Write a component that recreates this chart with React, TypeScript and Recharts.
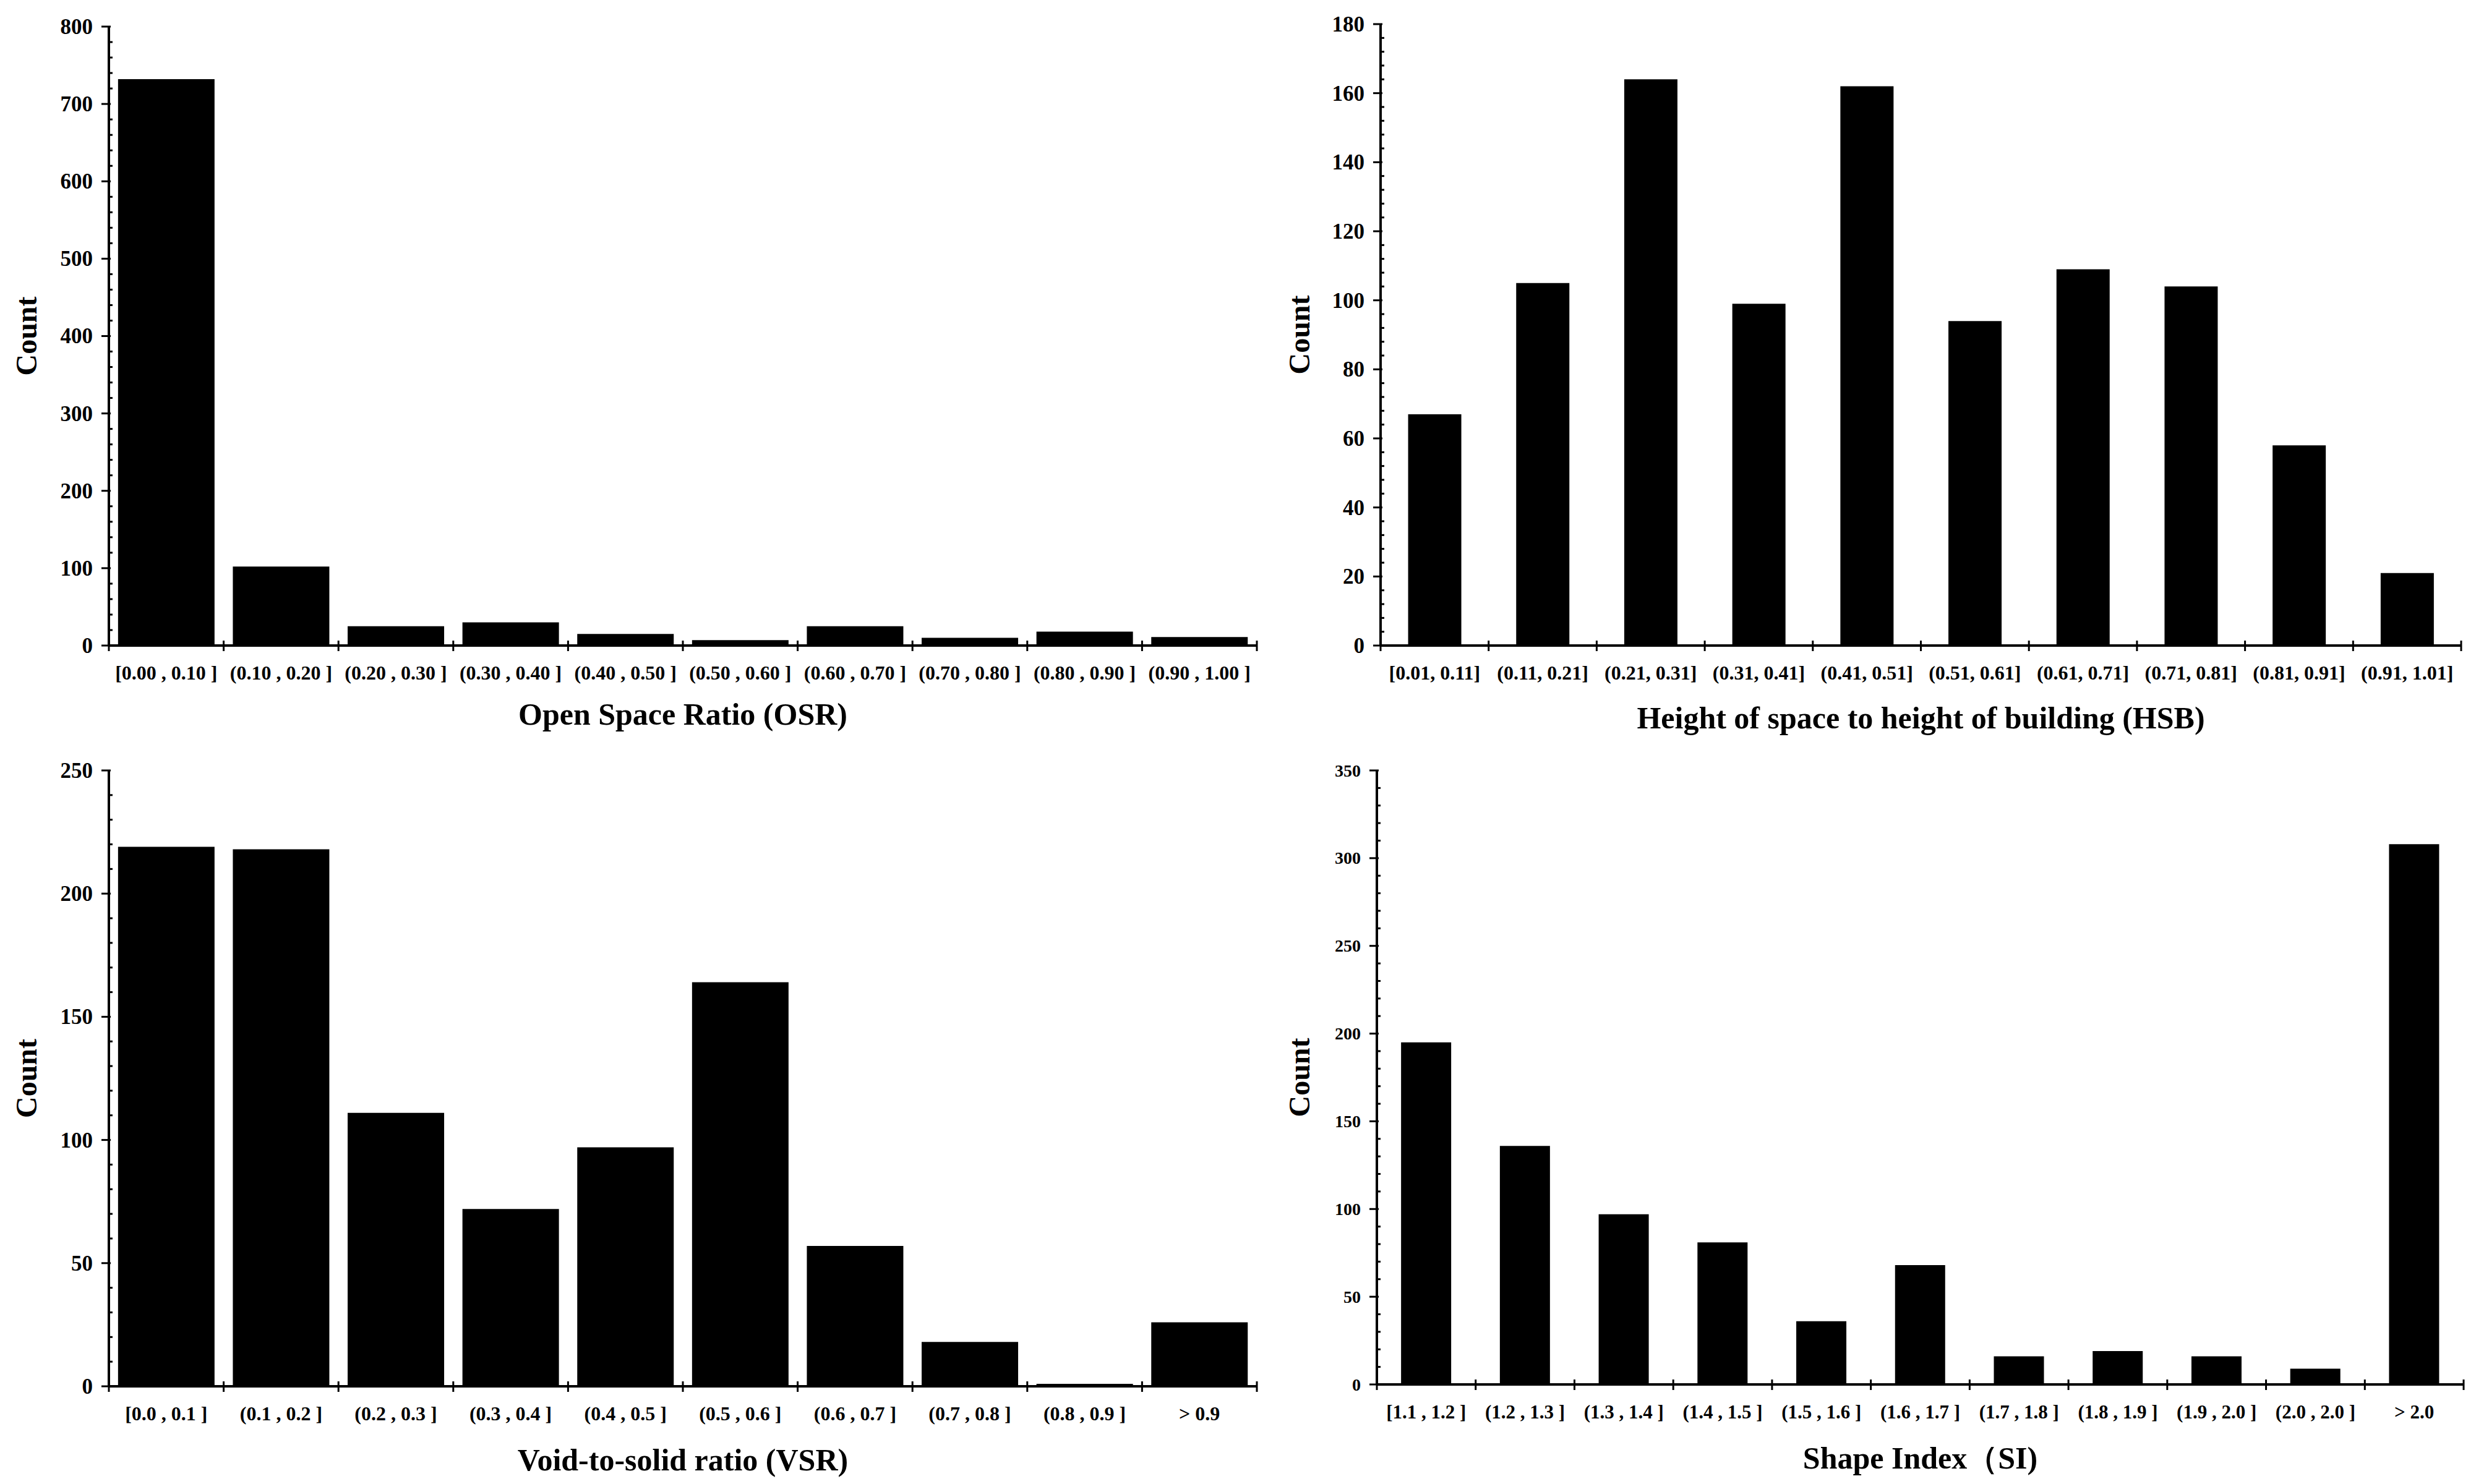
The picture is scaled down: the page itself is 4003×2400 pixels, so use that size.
import React from "react";
import { BarChart, Bar, XAxis, YAxis } from "recharts";

// ---- data ----
const osrCategories = [
  "[0.00 , 0.10 ]", "(0.10 , 0.20 ]", "(0.20 , 0.30 ]", "(0.30 , 0.40 ]", "(0.40 , 0.50 ]",
  "(0.50 , 0.60 ]", "(0.60 , 0.70 ]", "(0.70 , 0.80 ]", "(0.80 , 0.90 ]", "(0.90 , 1.00 ]",
];
const osrCounts = [732, 102, 25, 30, 15, 7, 25, 10, 18, 11];
const osrTicks = [0, 100, 200, 300, 400, 500, 600, 700, 800];

const hsbCategories = [
  "[0.01, 0.11]", "(0.11, 0.21]", "(0.21, 0.31]", "(0.31, 0.41]", "(0.41, 0.51]",
  "(0.51, 0.61]", "(0.61, 0.71]", "(0.71, 0.81]", "(0.81, 0.91]", "(0.91, 1.01]",
];
const hsbCounts = [67, 105, 164, 99, 162, 94, 109, 104, 58, 21];
const hsbTicks = [0, 20, 40, 60, 80, 100, 120, 140, 160, 180];

const vsrCategories = [
  "[0.0 , 0.1 ]", "(0.1 , 0.2 ]", "(0.2 , 0.3 ]", "(0.3 , 0.4 ]", "(0.4 , 0.5 ]",
  "(0.5 , 0.6 ]", "(0.6 , 0.7 ]", "(0.7 , 0.8 ]", "(0.8 , 0.9 ]", "> 0.9",
];
const vsrCounts = [219, 218, 111, 72, 97, 164, 57, 18, 1, 26];
const vsrTicks = [0, 50, 100, 150, 200, 250];

const siCategories = [
  "[1.1 , 1.2 ]", "(1.2 , 1.3 ]", "(1.3 , 1.4 ]", "(1.4 , 1.5 ]", "(1.5 , 1.6 ]", "(1.6 , 1.7 ]",
  "(1.7 , 1.8 ]", "(1.8 , 1.9 ]", "(1.9 , 2.0 ]", "(2.0 , 2.0 ]", "> 2.0",
];
const siCounts = [195, 136, 97, 81, 36, 68, 16, 19, 16, 9, 308];
const siTicks = [0, 50, 100, 150, 200, 250, 300, 350];

const FONT = '"Liberation Serif", "Times New Roman", serif';

function withMinor(major: number[], step: number) {
  const max = major[major.length - 1];
  const out: number[] = [];
  for (let i = 0; i * step <= max; i++) out.push(i * step);
  return out;
}

interface PanelProps {
  categories: string[];
  counts: number[];
  majorTicks: number[];
  minorStep: number;
  title: string;
  left: number;
  top: number;
  width: number;
  height: number;
  margin: { top: number; right: number; left: number; bottom: number };
  yAxisWidth: number;
  xAxisHeight: number;
  gap: string;
  xFont: number;
  yFont: number;
  countX: number;
  titleDy: number;
}

const Panel: React.FC<PanelProps> = (p) => {
  const data = p.categories.map((c, i) => ({ name: c, count: p.counts[i] }));
  const n = data.length;
  const plotW = p.width - p.margin.left - p.margin.right - p.yAxisWidth;
  const band = plotW / n;
  const majorStep = p.majorTicks[1] - p.majorTicks[0];
  const max = p.majorTicks[p.majorTicks.length - 1];

  const xTick = (props: any) => {
    const { x, y, payload } = props;
    const idx = props.index ?? payload.index;
    const half = band / 2;
    return (
      <g>
        <line x1={x - half} x2={x - half} y1={y - 8} y2={y + 9} stroke="#000" strokeWidth={3} />
        {idx === n - 1 && (
          <line x1={x + half} x2={x + half} y1={y - 8} y2={y + 9} stroke="#000" strokeWidth={3} />
        )}
        <text x={x} y={y + 55} textAnchor="middle" fontFamily={FONT} fontWeight="bold" fontSize={p.xFont} fill="#000">
          {payload.value}
        </text>
      </g>
    );
  };

  const yTick = (props: any) => {
    const { x, y, payload } = props;
    const v = payload.value;
    const isMajor = Math.abs(v / majorStep - Math.round(v / majorStep)) < 1e-6;
    if (!isMajor) {
      return <line x1={x} x2={x + 6} y1={y} y2={y} stroke="#000" strokeWidth={3} />;
    }
    return (
      <g>
        <line x1={x - 12} x2={x + 3} y1={y} y2={y} stroke="#000" strokeWidth={3} />
        <text x={x - 26} y={y + p.yFont * 0.34} textAnchor="end" fontFamily={FONT} fontWeight="bold" fontSize={p.yFont} fill="#000">
          {v}
        </text>
      </g>
    );
  };

  return (
    <div style={{ position: "absolute", left: p.left, top: p.top }}>
      <BarChart width={p.width} height={p.height} data={data} margin={p.margin} barCategoryGap={p.gap}>
        <XAxis
          dataKey="name"
          height={p.xAxisHeight}
          interval={0}
          tickSize={0}
          tickMargin={0}
          tickLine={false}
          axisLine={{ stroke: "#000", strokeWidth: 4 }}
          tick={xTick}
          label={{
            content: (lp: any) => {
              const vb = lp.viewBox;
              return (
                <text x={vb.x + vb.width / 2} y={vb.y + p.titleDy} textAnchor="middle" fontFamily={FONT} fontWeight="bold" fontSize={50} fill="#000">
                  {p.title}
                </text>
              );
            },
          }}
        />
        <YAxis
          width={p.yAxisWidth}
          domain={[0, max]}
          ticks={withMinor(p.majorTicks, p.minorStep)}
          interval={0}
          tickSize={0}
          tickMargin={0}
          tickLine={false}
          allowDecimals
          axisLine={{ stroke: "#000", strokeWidth: 4 }}
          tick={yTick}
          label={{
            content: (lp: any) => {
              const vb = lp.viewBox;
              const cx = vb.x + p.countX + 16;
              const cy = vb.y + vb.height / 2;
              return (
                <text x={cx} y={cy} transform={`rotate(-90 ${cx} ${cy})`} textAnchor="middle" fontFamily={FONT} fontWeight="bold" fontSize={48} fill="#000">
                  Count
                </text>
              );
            },
          }}
        />
        <Bar dataKey="count" fill="#000" isAnimationActive={false} />
      </BarChart>
    </div>
  );
};

export default function App() {
  return (
    <div style={{ position: "relative", width: 4003, height: 2400, background: "#fff", overflow: "hidden" }}>
      <style>{"body{margin:0}"}</style>
      <Panel
        categories={osrCategories}
        counts={osrCounts}
        majorTicks={osrTicks}
        minorStep={20}
        title="Open Space Ratio (OSR)"
        left={0}
        top={0}
        width={2050}
        height={1200}
        margin={{ top: 43, right: 18, left: 0, bottom: 0 }}
        yAxisWidth={176}
        xAxisHeight={156}
        gap="8%"
        xFont={32}
        yFont={35}
        countX={43}
        titleDy={128}
      />
      <Panel
        categories={hsbCategories}
        counts={hsbCounts}
        majorTicks={hsbTicks}
        minorStep={4}
        title="Height of space to height of building (HSB)"
        left={2050}
        top={0}
        width={1953}
        height={1200}
        margin={{ top: 39, right: 24, left: 0, bottom: 0 }}
        yAxisWidth={182}
        xAxisHeight={156}
        gap="25.5%"
        xFont={32}
        yFont={35}
        countX={51}
        titleDy={134}
      />
      <Panel
        categories={vsrCategories}
        counts={vsrCounts}
        majorTicks={vsrTicks}
        minorStep={10}
        title="Void-to-solid ratio (VSR)"
        left={0}
        top={1200}
        width={2050}
        height={1200}
        margin={{ top: 46, right: 18, left: 0, bottom: 0 }}
        yAxisWidth={176}
        xAxisHeight={158}
        gap="8%"
        xFont={32}
        yFont={35}
        countX={43}
        titleDy={136}
      />
      <Panel
        categories={siCategories}
        counts={siCounts}
        majorTicks={siTicks}
        minorStep={10}
        title="Shape Index（SI)"
        left={2050}
        top={1200}
        width={1953}
        height={1200}
        margin={{ top: 46, right: 20, left: 0, bottom: 0 }}
        yAxisWidth={176}
        xAxisHeight={161}
        gap="24.5%"
        xFont={31}
        yFont={28}
        countX={51}
        titleDy={136}
      />
    </div>
  );
}
